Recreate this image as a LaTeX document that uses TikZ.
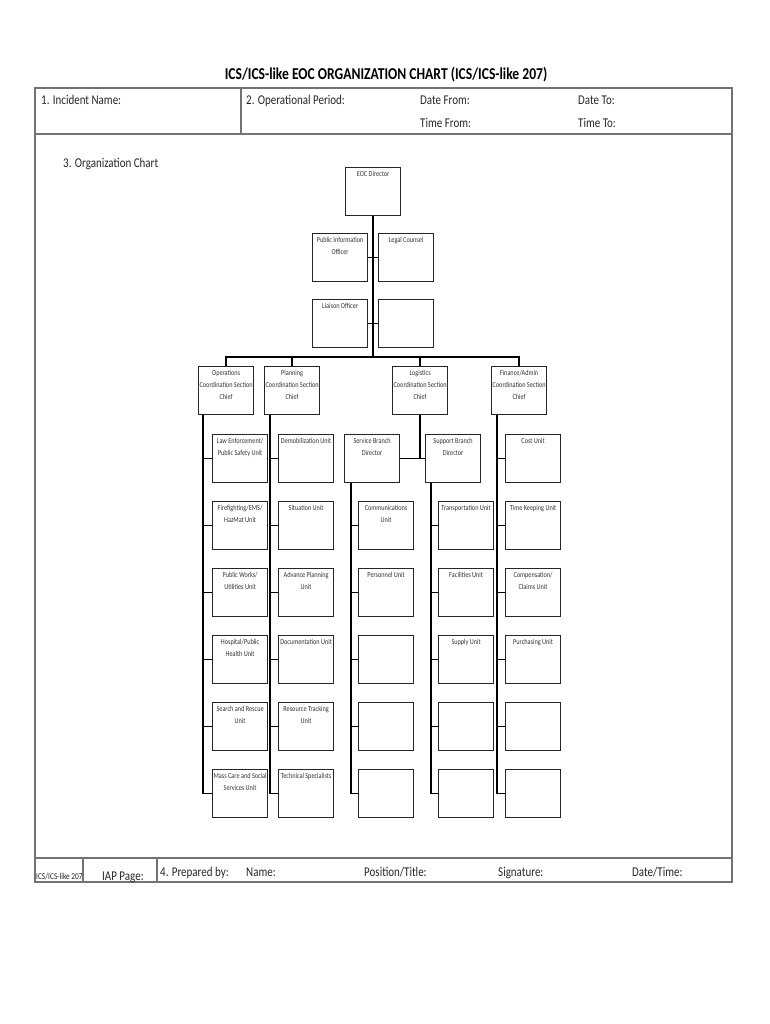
\documentclass[tikz,border=0pt]{standalone}
\usepackage{fontspec}
\setmainfont{Carlito}[FakeStretch=0.82]
\begin{document}
\begin{tikzpicture}[x=1pt,y=-1pt,
  frame/.style={draw=black!55, line width=1.3pt},
  conn/.style={draw=black, line width=1.5pt},
  bx/.style={draw=black!85, line width=1.2pt, minimum width=55pt, minimum height=48pt,
     inner sep=0pt, anchor=north west, label={[lbl]north:#1}},
  bx/.default={},
  lbl/.style={anchor=north, yshift=-4.5pt, align=center, inner sep=0pt,
     font=\fontsize{7.6}{11.8}\selectfont, text=black!80},
  hd/.style={anchor=base west, inner sep=0pt, font=\fontsize{13.4}{16}\selectfont, text=black!85}]
\useasboundingbox (0,0) rectangle (770,1024);
% ---------- form frame ----------
\draw[frame] (35,88) rectangle (732,882);
\draw[frame] (35,134) -- (732,134);
\draw[frame] (35,858) -- (732,858);
\draw[frame] (241,88) -- (241,134);
\draw[frame] (83,858) -- (83,882);
\draw[frame] (157,858) -- (157,882);
% ---------- title and header ----------
\node[anchor=base, inner sep=0pt, font=\bfseries\fontsize{16.6}{20}\selectfont] (title) at (386,80)
  {ICS/ICS-like EOC ORGANIZATION CHART (ICS/ICS-like 207)};
\node[hd] (h1) at (41,105) {1. Incident Name:};
\node[hd] (h2) at (246,105) {2. Operational Period:};
\node[hd] (h3) at (420,105) {Date From:};
\node[hd] (h4) at (578,105) {Date To:};
\node[hd] (h5) at (420,128) {Time From:};
\node[hd] (h6) at (578,128) {Time To:};
\node[hd] (h7) at (63,168) {3. Organization Chart};
% ---------- footer ----------
\node[hd, font=\fontsize{9}{10}\selectfont] (f0) at (36,879) {ICS/ICS-like 207};
\node[hd] (fa) at (102,880) {IAP Page:};
\node[hd] (fb) at (160,876) {4. Prepared by:};
\node[hd] (fc) at (246,876) {Name:};
\node[hd] (fd) at (364,876) {Position/Title:};
\node[hd] (fe) at (498,876) {Signature:};
\node[hd] (ff) at (632,876) {Date/Time:};
% ---------- command staff ----------
\node[bx={EOC Director}] (eoc) at (345,167) {};
\node[bx={Public Information\\Officer}] (pio) at (312,233) {};
\node[bx={Legal Counsel}] (legal) at (378,233) {};
\node[bx={Liaison Officer}] (liaison) at (312,299) {};
\node[bx] (lemp) at (378,299) {};
% ---------- section chiefs ----------
\node[bx={Operations\\Coordination Section\\Chief}] (ops) at (198,366) {};
\node[bx={Planning\\Coordination Section\\Chief}] (plan) at (264,366) {};
\node[bx={Logistics\\Coordination Section\\Chief}] (log) at (392,366) {};
\node[bx={Finance/Admin\\Coordination Section\\Chief}] (fin) at (491,366) {};
% ---------- operations units ----------
\node[bx={Law Enforcement/\\Public Safety Unit}] (o1) at (212,434) {};
\node[bx={Firefighting/EMS/\\HazMat Unit}] (o2) at (212,501) {};
\node[bx={Public Works/\\Utilities Unit}] (o3) at (212,568) {};
\node[bx={Hospital/Public\\Health Unit}] (o4) at (212,635) {};
\node[bx={Search and Rescue\\Unit}] (o5) at (212,702) {};
\node[bx={Mass Care and Social\\Services Unit}] (o6) at (212,769) {};
% ---------- planning units ----------
\node[bx={Demobilization Unit}] (p1) at (278,434) {};
\node[bx={Situation Unit}] (p2) at (278,501) {};
\node[bx={Advance Planning\\Unit}] (p3) at (278,568) {};
\node[bx={Documentation Unit}] (p4) at (278,635) {};
\node[bx={Resource Tracking\\Unit}] (p5) at (278,702) {};
\node[bx={Technical Specialists}] (p6) at (278,769) {};
% ---------- logistics branches ----------
\node[bx={Service Branch\\Director}] (svc) at (344,434) {};
\node[bx={Support Branch\\Director}] (sup) at (425,434) {};
\node[bx={Communications\\Unit}] (s2) at (358,501) {};
\node[bx={Personnel Unit}] (s3) at (358,568) {};
\node[bx] (s4) at (358,635) {};
\node[bx] (s5) at (358,702) {};
\node[bx] (s6) at (358,769) {};
\node[bx={Transportation Unit}] (t2) at (438,501) {};
\node[bx={Facilities Unit}] (t3) at (438,568) {};
\node[bx={Supply Unit}] (t4) at (438,635) {};
\node[bx] (t5) at (438,702) {};
\node[bx] (t6) at (438,769) {};
% ---------- finance units ----------
\node[bx={Cost Unit}] (f1) at (505,434) {};
\node[bx={Time Keeping Unit}] (f2) at (505,501) {};
\node[bx={Compensation/\\Claims Unit}] (f3) at (505,568) {};
\node[bx={Purchasing Unit}] (f4) at (505,635) {};
\node[bx] (f5) at (505,702) {};
\node[bx] (f6) at (505,769) {};
% ---------- connectors ----------
\coordinate (bus) at (0,357);
\draw[conn] (eoc.south) -- (eoc.south |- bus);
\draw[conn] (pio.east) -- (legal.west);
\draw[conn] (liaison.east) -- (lemp.west);
\draw[conn] (ops.north) -- (ops.north |- bus) -- (fin.north |- bus) -- (fin.north);
\draw[conn] (plan.north) -- (plan.north |- bus);
\draw[conn] (log.north) -- (log.north |- bus);
\coordinate (ov) at ([xshift=5pt]ops.south west);
\draw[conn] (ov) |- (o6.west);
\foreach \n in {o1,o2,o3,o4,o5} \draw[conn] (\n.west) -- (\n.west -| ov);
\coordinate (pv) at ([xshift=6pt]plan.south west);
\draw[conn] (pv) |- (p6.west);
\foreach \n in {p1,p2,p3,p4,p5} \draw[conn] (\n.west) -- (\n.west -| pv);
\draw[conn] (log.south) -- (log.south |- svc.east);
\draw[conn] (svc.east) -- (sup.west);
\coordinate (sv) at ([xshift=7pt]svc.south west);
\draw[conn] (sv) |- (s6.west);
\foreach \n in {s2,s3,s4,s5} \draw[conn] (\n.west) -- (\n.west -| sv);
\coordinate (tv) at ([xshift=6pt]sup.south west);
\draw[conn] (tv) |- (t6.west);
\foreach \n in {t2,t3,t4,t5} \draw[conn] (\n.west) -- (\n.west -| tv);
\coordinate (fv) at ([xshift=6pt]fin.south west);
\draw[conn] (fv) |- (f6.west);
\foreach \n in {f1,f2,f3,f4,f5} \draw[conn] (\n.west) -- (\n.west -| fv);
\end{tikzpicture}
\end{document}
